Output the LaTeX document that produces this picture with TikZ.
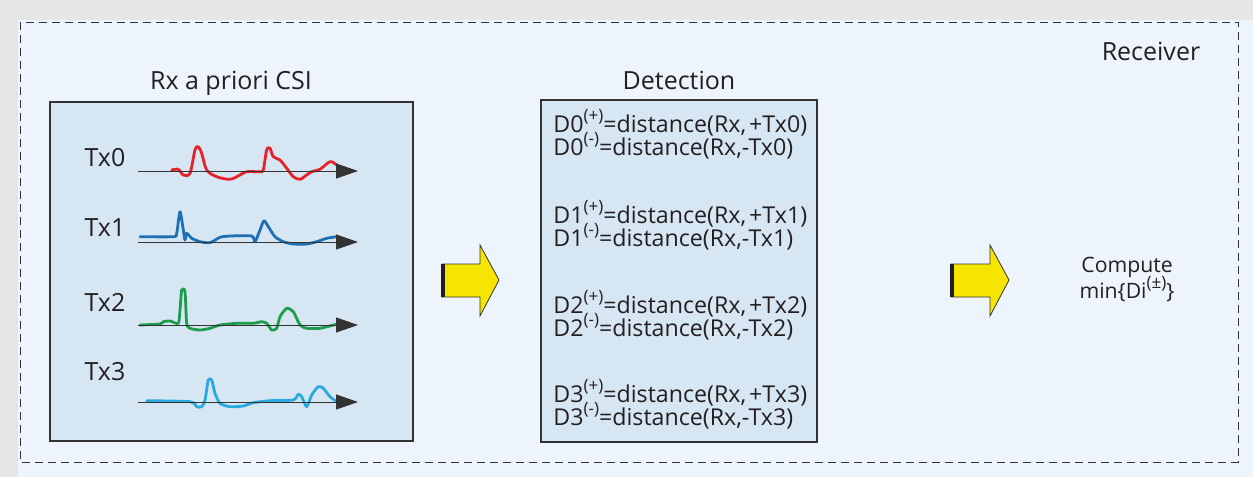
\documentclass[tikz,border=0pt]{standalone}
\usepackage{fontspec}
\setmainfont{Open Sans}
\usetikzlibrary{arrows.meta}
\definecolor{outergray}{HTML}{E6E6E6}
\definecolor{bgblue}{HTML}{EDF4FB}
\definecolor{panelblue}{HTML}{D7E6F3}
\definecolor{edgedark}{HTML}{333333}
\definecolor{txtdark}{HTML}{231F20}
\definecolor{arrowyellow}{HTML}{F5E500}
\definecolor{cred}{HTML}{E62129}
\definecolor{cblue}{HTML}{1F6FB5}
\definecolor{cgreen}{HTML}{1E9C4E}
\definecolor{ccyan}{HTML}{2AA8E0}
\newcommand{\supx}[1]{\smash{\raisebox{0.85ex}{\fontsize{8.5}{8}\selectfont(#1)}}}
\tikzset{
  panel/.style={draw=edgedark, line width=0.6pt, fill=panelblue},
  title/.style={font=\fontsize{12.5}{14}\selectfont, text=txtdark, inner sep=0pt},
  txlabel/.style={font=\fontsize{12.5}{14}\selectfont, text=txtdark, inner sep=0pt},
  eqtext/.style={font=\fontsize{11.6}{10}\selectfont, text=txtdark, align=left, inner sep=0pt, anchor=north west},
  axisline/.style={draw=edgedark, line width=0.5pt, -{Triangle[length=11pt,width=7.5pt]}},
  wave/.style={line width=1.4pt, line join=round, line cap=round},
  bigarrow/.style={fill=arrowyellow, draw=edgedark, line width=0.4pt},
}
\begin{document}
\begin{tikzpicture}[x=0.5pt,y=-0.5pt]
\useasboundingbox (0,0) rectangle (1253,477);
% background
\fill[outergray] (0,0) rectangle (1253,477);
\fill[bgblue] (18,20) rectangle (1253,477);
\draw[edgedark, dashed, line width=0.5pt, dash pattern=on 4pt off 2.5pt] (20,22) rectangle (1238,462);
\node[title, anchor=base] (receiver) at (1151,60) {Receiver};

% left panel
\node[title, anchor=base] (csititle) at (231,89) {Rx a priori CSI};
\draw[panel] (50,102) rectangle (413,441);
\node[txlabel] (tx0) at (105,158) {Tx0};
\node[txlabel] (tx1) at (105,228) {Tx1};
\node[txlabel] (tx2) at (105,302) {Tx2};
\node[txlabel] (tx3) at (105,372) {Tx3};

\coordinate (a0s) at (138,171); \coordinate (a0e) at (358,171);
\coordinate (a1s) at (138,242); \coordinate (a1e) at (358,242);
\coordinate (a2s) at (138,325); \coordinate (a2e) at (358,325);
\coordinate (a3s) at (138,402); \coordinate (a3e) at (358,402);

\draw[wave, cred] plot[smooth, tension=0.5] coordinates {(171.7,170) (178.3,169.3) (183.3,175) (190,173.3) (195,150) (198.3,146.7) (201.7,153.3) (206.7,170) (216.7,176.7) (230,179.3) (240,175) (246.7,171.7) (260,171.7) (263.3,170) (266.7,150) (270,148.3) (273.3,156.7) (280,160) (286.7,168.3) (293.3,176.7) (300,179.3) (306.7,175) (311.7,171.7) (320,169.3) (330,161.7) (336.7,165) (341.7,170)};
\draw[wave, cblue] plot[smooth, tension=0.4] coordinates {(140,236.7) (173.3,236.7) (176.7,233.3) (180,211.7) (183.3,230) (185,240) (186.7,233.3) (191.7,238.3) (200,241.7) (210,242.7) (220,237.3) (230,236) (251.7,236) (255,241.7) (260,230) (264,220.7) (268.3,226.7) (275,236.7) (283.3,241.7) (293.3,244) (306.7,244) (316.7,241.7) (326.7,238.3) (336.7,236.7)};
\draw[wave, cgreen] plot[smooth, tension=0.4] coordinates {(140,325) (160,324) (163.3,321.7) (170,321) (178.3,323.3) (180,310) (181.7,290) (185,291.7) (186.7,323.3) (190,328.3) (200,330) (210,328.3) (220,325) (236.7,323.3) (253.3,323.3) (261.7,321.7) (266.7,323.3) (271.7,330) (276.7,328.3) (280,316.7) (286.7,308.3) (293.3,311.7) (300,325) (306.7,328.3) (320,328.3) (333.3,325) (340,323.3)};
\draw[wave, ccyan] plot[smooth, tension=0.4] coordinates {(146.7,400.7) (190,401.7) (196.7,406.7) (201.7,406.7) (205,400) (208.3,380) (211.7,380) (215,393.3) (220,403.3) (230,406.7) (243.3,406) (253.3,402.7) (270,400.7) (293.3,400) (298.3,394.3) (301.7,396.7) (306.7,406.7) (311.7,395) (318.3,386.7) (323.3,388.3) (330,396.7) (336.7,401.7)};

\draw[axisline] (a0s) -- (a0e);
\draw[axisline] (a1s) -- (a1e);
\draw[axisline] (a2s) -- (a2e);
\draw[axisline] (a3s) -- (a3e);

% arrow 1
\draw[bigarrow] (442,264) -- (480,264) -- (480,245) -- (499,280) -- (480,316) -- (480,297) -- (442,297) -- cycle;
\draw[txtdark, line width=1.6pt] (443,264) -- (443,297);

% detection panel
\node[title, anchor=base] (dettitle) at (679,89) {Detection};
\draw[panel] (541,100) rectangle (817,442);
\node[eqtext] (d0) at (553,114) {D0\supx{+}=distance(Rx,\kern1.5pt+Tx0)\\D0\supx{-}=distance(Rx,-Tx0)};
\node[eqtext] (d1) at (553,205) {D1\supx{+}=distance(Rx,\kern1.5pt+Tx1)\\D1\supx{-}=distance(Rx,-Tx1)};
\node[eqtext] (d2) at (553,295) {D2\supx{+}=distance(Rx,\kern1.5pt+Tx2)\\D2\supx{-}=distance(Rx,-Tx2)};
\node[eqtext] (d3) at (553,384) {D3\supx{+}=distance(Rx,\kern1.5pt+Tx3)\\D3\supx{-}=distance(Rx,-Tx3)};

% arrow 2
\draw[bigarrow] (951,264) -- (990,264) -- (990,245) -- (1009,280) -- (990,316) -- (990,297) -- (951,297) -- cycle;
\draw[txtdark, line width=1.6pt] (952,264) -- (952,297);

\node[title, align=center, font=\fontsize{10.6}{13}\selectfont] (compute) at (1127,279) {Compute\\min\{Di\supx{±}\}};
\end{tikzpicture}
\end{document}
